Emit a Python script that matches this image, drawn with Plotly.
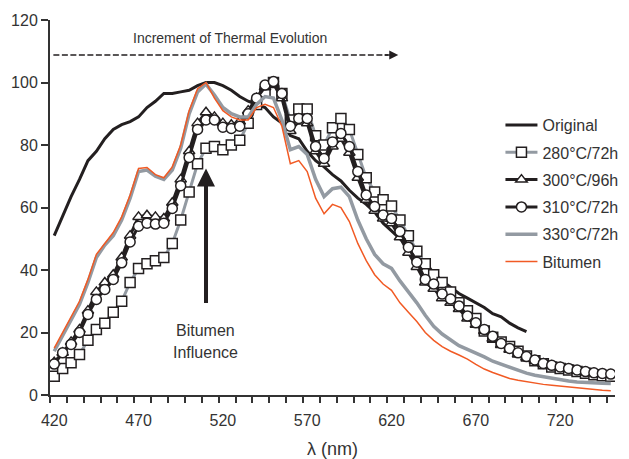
import plotly.graph_objects as go

wavelength = list(range(420, 755, 5))  # nm

original = [51, 57.5, 63.5, 69, 75, 78, 82, 85, 86.5, 87.5, 89, 92, 94, 96.5, 96.5, 97, 97.5, 99, 100, 100,
            99, 97.5, 95.5, 94, 93, 92, 89, 87, 83, 82, 78, 75, 73, 70.5, 68.5, 65.5, 63, 61, 58.5, 55,
            52.5, 50, 47.5, 45, 42.5, 39, 36.5, 34.5, 32.5, 31, 29.5, 28, 26, 25, 23, 21.5, 20.3] + [None] * 10

t280 = [6, 8.5, 10.3, 13, 17.5, 21, 23, 26.5, 30, 36, 40.5, 42, 43, 44, 48.5, 56, 65, 74, 79, 79.5,
        78.5, 80, 81.5, 87, 93, 97, 100, 96.5, 88, 91.5, 91.5, 83, 80, 85.5, 88.5, 85, 77, 69.5, 65, 62.5,
        60.5, 56, 51, 46, 42, 38.5, 36, 33, 29.5, 27, 24.5, 20.5, 18.5, 17, 15.5, 14, 12.5, 11, 10, 9,
        8.5, 8, 7.5, 7, 6.5, 6.2, 6]

t300 = [10.5, 13.5, 17, 21, 27, 33, 36, 38.5, 44, 51, 57, 57.5, 57, 56.5, 61.5, 69, 78, 87, 90.5, 89,
        87, 86.5, 87.5, 91, 95, 98.5, 99.5, 95, 84.5, 87.5, 87, 78, 74, 79.5, 82, 77.5, 69.5, 62.5, 59, 56.5,
        55, 50.5, 45.5, 41, 36, 34, 31, 29.5, 27.5, 24.5, 22.5, 20.5, 18, 16, 14.5, 13, 12, 11, 10, 9.4,
        8.8, 8.3, 7.8, 7.3, 7, 6.7, 6.5]

t310 = [9.9, 13.5, 16.2, 20, 25.8, 30.6, 33.8, 37, 42.3, 49, 54, 55, 54.7, 55, 59.7, 67, 76, 85, 88, 88,
        85.7, 85.3, 86, 90, 95, 99.2, 100.3, 96.5, 86, 88.5, 88.5, 79.5, 75.7, 81, 83.7, 79.5, 71.5, 64, 60.3, 57.6,
        56.5, 52.3, 47.3, 42.5, 37, 35.5, 32.3, 30.7, 28.5, 25.3, 23.1, 21, 18.8, 16.5, 14.9, 13.5, 12.3, 11.2, 10.1, 9.5,
        9, 8.5, 8, 7.5, 7.1, 6.9, 6.7]

t330 = [14, 19, 24, 29, 36, 44, 48, 51, 56, 63, 71.5, 72, 70, 69, 72, 79, 90, 97, 99.5, 96,
        92, 90, 89, 89, 93, 95.5, 95, 88, 78.5, 79.5, 77, 69, 63.5, 66, 66.5, 63.5, 56, 50, 45, 42,
        40.5, 36.5, 33, 29.5, 25.5, 22, 19.5, 17.5, 15.8, 14.6, 13.5, 12.2, 10.8, 9.8, 8.8, 7.8, 7, 6.3, 5.8, 5.3,
        4.9, 4.5, 4.2, 4, 3.9, 3.8, 3.7]

bitumen = [15, 20, 25, 30, 37, 45, 48.5, 52, 57, 64, 72.5, 72.8, 70.5, 69.5, 73, 80, 91, 98, 100, 95,
           91, 89, 88, 88, 92, 93, 92, 86, 74, 75, 71.5, 63, 58, 61, 60, 55.5, 48.5, 43, 38.5, 35.5,
           33.5, 29.5, 26.5, 23.5, 20, 17.5, 15.5, 14, 12.8, 11.5, 9.8, 8.3, 7.2, 6.2, 5.3, 4.7, 4.2, 3.8, 3.4, 3.1,
           2.8, 2.5, 2.2, 1.9, 1.7, 1.5, 1.4]

BLACK = "#231f20"
GRAY = "#939aa2"
ORANGE = "#f15a24"
TXT = "#333333"
FONT = "Arial, Liberation Sans, sans-serif"

fig = go.Figure()

def add(name, y, color, width, symbol=None, msize=9):
    mode = "lines+markers" if symbol else "lines"
    fig.add_trace(go.Scatter(
        x=wavelength, y=y, name=name, mode=mode, legendgroup=name,
        line=dict(color=color, width=width),
        marker=dict(symbol=symbol, size=msize, color="white",
                    line=dict(color=BLACK, width=1.5)) if symbol else None,
        connectgaps=False,
    ))

add("Original", original, BLACK, 3)
add("280°C/72h", t280, GRAY, 3, "square", 10)
add("300°C/96h", t300, BLACK, 3, "triangle-up", 10)
add("310°C/72h", t310, BLACK, 3, "circle", 10)
add("330°C/72h", t330, GRAY, 3.5)
add("Bitumen", bitumen, ORANGE, 1.5)

# Increment of thermal evolution (dashed arrow)
fig.add_shape(type="line", x0=419.5, x1=618, y0=108.8, y1=108.8, xref="x", yref="y",
              line=dict(color=BLACK, width=1.5, dash="6px,2.5px"))
fig.add_annotation(x=624, y=108.8, ax=615, ay=108.8, xref="x", yref="y", axref="x", ayref="y",
                   text="", showarrow=True, arrowhead=2, arrowsize=1.2, arrowwidth=1.5, arrowcolor=BLACK)
fig.add_annotation(x=524, y=114.3, xref="x", yref="y", text="Increment of Thermal Evolution",
                   showarrow=False, font=dict(size=14, color=TXT, family=FONT))

# Bitumen influence arrow
fig.add_annotation(x=510, y=72.5, ax=510, ay=29, xref="x", yref="y", axref="x", ayref="y",
                   text="", showarrow=True, arrowhead=2, arrowsize=0.9, arrowwidth=4, arrowcolor=BLACK)
fig.add_annotation(x=509.5, y=20.8, xref="x", yref="y", text="Bitumen",
                   showarrow=False, font=dict(size=16, color=TXT, family=FONT))
fig.add_annotation(x=509.5, y=13.5, xref="x", yref="y", text="Influence",
                   showarrow=False, font=dict(size=16, color=TXT, family=FONT))

fig.update_layout(
    width=621, height=451,
    margin=dict(l=42, r=14, t=12, b=64, autoexpand=False),
    paper_bgcolor="white", plot_bgcolor="white",
    font=dict(family=FONT, size=16, color=TXT),
    showlegend=True,
    legend=dict(x=0.793, y=0.778, xref="container", yref="container",
                xanchor="left", yanchor="top", bgcolor="rgba(0,0,0,0)",
                font=dict(size=16, color=TXT), tracegroupgap=3.5, itemwidth=32),
    xaxis=dict(range=[417.5, 752.5], tickmode="linear", tick0=420, dtick=50, ticks="",
               showgrid=False, zeroline=False, showline=True, linecolor="#333333", linewidth=2,
               tickfont=dict(size=16, color=TXT), ticklabelstandoff=10, automargin=False,
               minor=dict(ticks="outside", tickmode="linear", tick0=417.5, dtick=10, ticklen=6,
                          tickwidth=1.5, tickcolor="#333333", showgrid=False),
               title=dict(text="λ (nm)", font=dict(size=18, color=TXT), standoff=16)),
    yaxis=dict(range=[0, 120], tickmode="linear", tick0=0, dtick=20, ticks="outside", ticklen=7,
               tickwidth=1.5, tickcolor="#333333", showgrid=False, zeroline=False, showline=True,
               automargin=False,
               linecolor="#333333", linewidth=2, tickfont=dict(size=16, color=TXT)),
)

fig.write_html("out.html")
